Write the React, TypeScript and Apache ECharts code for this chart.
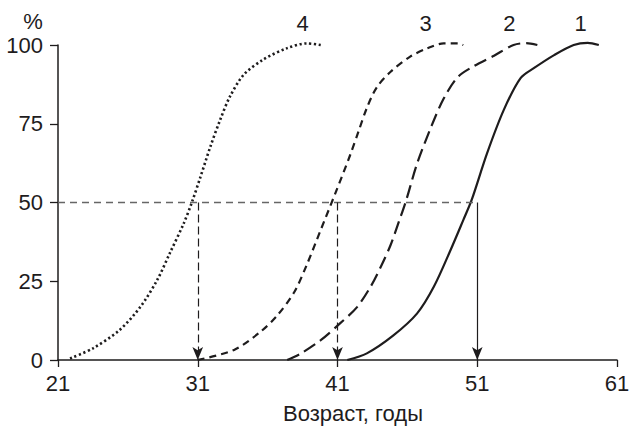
import React, { useEffect, useRef } from "react";
import * as echarts from "echarts";

const xTicks = [21, 31, 41, 51, 61];
const yTicks = [0, 25, 50, 75, 100];

const curve1: [number, number][] = [
  [41.7, 0], [43.1, 2.1], [45, 7.8], [46.7, 14.8], [47.9, 23.3], [49.1, 35],
  [50, 44.4], [50.6, 50.8], [51.7, 65.6], [52.9, 79.4], [54.1, 89.5], [55.1, 92.8],
  [56.5, 96.8], [57.9, 100], [58.9, 100.7], [59.7, 100],
];
const curve2: [number, number][] = [
  [37.4, 0], [38.35, 2], [39.8, 6.3], [41.2, 11.7], [42.4, 16.8], [43.4, 23.5],
  [44.1, 29.6], [44.8, 36.5], [45.4, 44], [45.9, 50.5], [46.7, 62.4], [47.7, 74],
  [48.6, 83], [49.6, 89.8], [50.8, 93.4], [52.2, 96.6], [53.6, 100], [54.5, 100.6], [55.3, 100],
];
const curve3: [number, number][] = [
  [31, 0], [33.6, 3.2], [35.5, 9], [36.7, 14.2], [37.9, 21.5], [38.8, 30.2],
  [39.8, 41.3], [40.85, 53], [41.9, 65], [42.5, 72.5], [43.1, 80], [43.8, 86.5],
  [44.8, 91.5], [46.2, 96.3], [47.4, 98.9], [48.6, 100.5], [49.6, 100.5], [50, 100],
];
const curve4: [number, number][] = [
  [21.86, 0.5], [23.5, 3.7], [25.4, 9.5], [26.9, 16.9], [28.1, 25.4], [29, 33.9],
  [30, 43.4], [30.6, 50.3], [31.2, 58.2], [31.9, 67.7], [32.6, 76.2], [33.3, 83.6],
  [34.3, 90.6], [35.7, 95.4], [37.4, 99], [38.8, 100.5], [39.8, 100],
];

const curveNames = ["1", "2", "3", "4"];
const curveLabelPos: [number, number][] = [[58.4, 106.8], [53.3, 106.8], [47.3, 106.8], [38.5, 106.8]];
const medianAges = [31, 41, 51];
const medianLevel = 50;

const INK = "#1e1c1d";
const FONT = "'Liberation Sans', Arial, sans-serif";
const FS = 22;

export default function App() {
  const ref = useRef<HTMLDivElement>(null);
  useEffect(() => {
    if (!ref.current) return;
    const chart = echarts.init(ref.current, undefined, { renderer: "svg" });
    const curves = [curve1, curve2, curve3, curve4];
    const lineTypes: any[] = ["solid", [13, 6], [7, 5], [2.2, 2.6]];
    const widths = [2.2, 2.2, 2.2, 2.6];
    const series: any[] = curves.map((data, i) => ({
      type: "line",
      data,
      symbol: "none",
      smooth: 0.3,
      clip: false,
      lineStyle: { color: INK, width: widths[i], type: lineTypes[i] },
    }));
    series.push({
      type: "line",
      data: [],
      markLine: {
        silent: true,
        animation: false,
        symbol: ["none", "none"],
        label: { show: false },
        data: [
          [
            { coord: [xTicks[0], medianLevel], lineStyle: { color: "#666", width: 1.3, type: [7, 5] } },
            { coord: [medianAges[2], medianLevel] },
          ],
        ],
      },
    });
    series.push({
      type: "line",
      data: [],
      markLine: {
        silent: true,
        animation: false,
        symbol: ["none", "arrow"],
        symbolSize: [8, 13],
        label: { show: false },
        data: medianAges.map((a, i) => [
          {
            coord: [a, medianLevel],
            lineStyle: { color: INK, width: 1.2, type: i < 2 ? [8, 4] : "solid" },
          },
          { coord: [a, 0] },
        ]),
      },
    });
    chart.setOption({
      animation: false,
      grid: { left: 58, right: 12, top: 45, bottom: 66, containLabel: false, outerBoundsMode: "none" },
      xAxis: {
        type: "value",
        min: xTicks[0],
        max: xTicks[xTicks.length - 1],
        splitLine: { show: false },
        axisLine: { lineStyle: { color: INK, width: 1.5 } },
        axisTick: { show: true, customValues: xTicks, length: 7, lineStyle: { color: INK, width: 1.3 } },
        axisLabel: { customValues: xTicks, color: INK, fontSize: FS, fontFamily: FONT, margin: 12 },
        name: "Возраст, годы",
        nameLocation: "middle",
        nameGap: 53,
        nameTextStyle: { color: INK, fontSize: FS, fontFamily: FONT, verticalAlign: "middle", padding: [0, 0, 0, 31] },
      },
      yAxis: {
        type: "value",
        min: 0,
        max: 100,
        interval: 25,
        splitLine: { show: false },
        axisLine: { show: true, lineStyle: { color: INK, width: 1.5 } },
        axisTick: { show: true, length: 8, lineStyle: { color: INK, width: 1.3 } },
        axisLabel: { customValues: yTicks, color: INK, fontSize: FS, fontFamily: FONT, margin: 15 },
        name: "%",
        nameLocation: "end",
        nameGap: 13,
        nameTextStyle: { color: INK, fontSize: FS, fontFamily: FONT, align: "center", padding: [0, 50, 0, 0] },
      },
      series,
    });
    const labels = curveLabelPos.map((pos, i) => {
      const [px, py] = chart.convertToPixel({ gridIndex: 0 }, pos) as number[];
      return {
        type: "text",
        x: px,
        y: py,
        silent: true,
        style: {
          text: curveNames[i],
          fill: INK,
          fontSize: FS,
          fontFamily: FONT,
          fontWeight: "normal",
          align: "center",
          verticalAlign: "middle",
        },
      };
    });
    chart.setOption({ graphic: labels });
    return () => chart.dispose();
  }, []);
  return <div ref={ref} style={{ width: 629, height: 426, position: "absolute", left: 0, top: 0, background: "#fff" }} />;
}
